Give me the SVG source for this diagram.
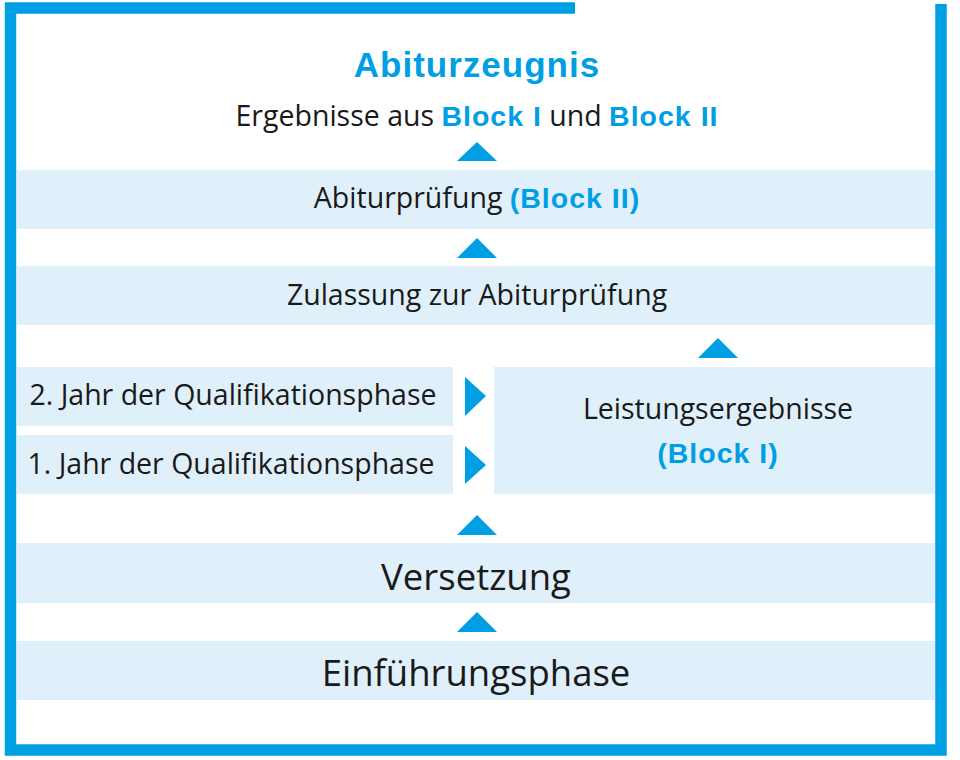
<svg xmlns="http://www.w3.org/2000/svg" width="960" height="760" viewBox="0 0 960 760">
<style>
.band{fill:#dff0fb}
.tri{fill:#009fe3}
.t{font-family:"Open Sans",Lato,"Liberation Sans",sans-serif;fill:#1a1a1a;text-anchor:middle;font-size:28.5px}
.big{font-size:36.5px}
.b{font-family:"Liberation Sans",Arial,sans-serif;font-weight:bold;fill:#009fe3;letter-spacing:1px}
.frame{fill:none;stroke:#009fe3;stroke-width:11.5}
</style>
<rect width="960" height="760" fill="#fff"/>
<path class="frame" d="M575 8H10.5V750H941V4"/>
<g id="abiturzeugnis">
<text class="t b" x="477" y="77" style="font-size:35px">Abiturzeugnis</text>
<text class="t" x="477" y="126">Ergebnisse aus <tspan class="b">Block I</tspan> und <tspan class="b">Block II</tspan></text>
</g>
<g id="abiturpruefung">
<rect class="band" x="17" y="170" width="918" height="59"/>
<text class="t" x="477" y="208">Abiturprüfung <tspan class="b">(Block II)</tspan></text>
</g>
<g id="zulassung">
<rect class="band" x="17" y="266" width="918" height="59"/>
<text class="t" x="477" y="305">Zulassung zur Abiturprüfung</text>
</g>
<g id="jahr2">
<rect class="band" x="17" y="367" width="436" height="59"/>
<text class="t" x="233" y="405">2. Jahr der Qualifikationsphase</text>
</g>
<g id="jahr1">
<rect class="band" x="17" y="435" width="436" height="59"/>
<text class="t" x="231" y="474">1. Jahr der Qualifikationsphase</text>
</g>
<g id="leistung">
<rect class="band" x="494" y="367" width="441" height="127"/>
<text class="t" x="718" y="419">Leistungsergebnisse</text>
<text class="t b" x="718" y="463">(Block I)</text>
</g>
<g id="versetzung">
<rect class="band" x="17" y="543" width="918" height="60"/>
<text class="t big" x="476" y="590">Versetzung</text>
</g>
<g id="einfuehrung">
<rect class="band" x="17" y="641" width="918" height="59"/>
<text class="t big" x="476" y="686">Einführungsphase</text>
</g>
<g id="connectors">
<polygon class="tri" points="477,142 497,161 457,161"/>
<polygon class="tri" points="477,238 497,258 457,258"/>
<polygon class="tri" points="718,338 738,358 698,358"/>
<polygon class="tri" points="465,377 486,396 465,416"/>
<polygon class="tri" points="465,446 486,465 465,484"/>
<polygon class="tri" points="477,515 497,535 457,535"/>
<polygon class="tri" points="477,612 497,632 457,632"/>
</g>
</svg>
